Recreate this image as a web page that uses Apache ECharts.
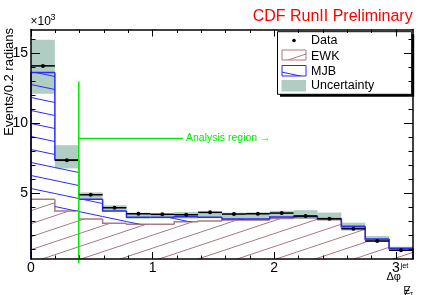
<!DOCTYPE html>
<html><head><meta charset="utf-8">
<script src="https://cdn.jsdelivr.net/npm/echarts@6/dist/echarts.min.js"></script>
<style>html,body{margin:0;padding:0;background:#fff}#c{width:436px;height:295px}</style>
</head><body><div id="c"></div>
<script>
// ---- data (values in units of 10^3 events) ----
const binEdges = [0.0000,0.1963,0.3927,0.5890,0.7854,0.9817,1.1781,1.3744,1.5708,1.7671,1.9635,2.1598,2.3562,2.5525,2.7489,2.9452,3.1416];
const dataValues = [14.11,7.36,4.90,3.97,3.54,3.50,3.47,3.64,3.52,3.54,3.59,3.38,3.19,2.47,1.59,0.93];
const ewkValues  = [4.57,3.73,3.16,2.86,2.79,2.79,2.97,3.02,3.09,3.09,3.21,3.26,3.12,2.55,1.68,1.02];
const mjbValues  = [9.07,3.67,1.41,0.88,0.50,0.50,0.36,0.27,0.08,0.07,0.10,0.11,0.07,0.09,0.06,0.05];
const bandLow    = [12.11,6.78,4.61,3.70,3.18,3.21,3.20,3.22,3.08,3.10,3.22,3.18,3.10,2.33,1.54,0.88];
const bandHigh   = [15.97,8.44,5.07,4.15,3.62,3.58,3.67,3.70,3.62,3.64,3.75,3.80,3.63,2.90,1.95,1.19];
const xTickValues = [0,1,2,3];
const xMinorValues = [0.2,0.4,0.6,0.8,1.2,1.4,1.6,1.8,2.2,2.4,2.6,2.8,3.0];
const yTickValues = [5,10,15];
const yMinorValues = [1,2,3,4,6,7,8,9,11,12,13,14,16];
const legendLabels = ['Data','EWK','MJB','Uncertainty'];
const yMin = 0.307, yMax = 16.71;
const xMin = 0, xMax = 3.1416;
const cutX = 0.3927, cutTop = 13.0, arrowY = 8.93, arrowEnd = 1.25;

// ---- styles ----
const FONT = 'Liberation Sans, Arial, Helvetica, sans-serif';
const ewkColor = '#a97a80';
const mjbColor = '#2a2aff';
const bandColor = '#b0cdc4';
const green = '#00ee00';

function makeHatch(w, h, color, dir){
  const c = document.createElement('canvas'); c.width = w; c.height = h;
  const g = c.getContext('2d'); g.strokeStyle = color; g.lineWidth = 1;
  for (let m = -1; m <= 1; m++){
    g.beginPath();
    if (dir > 0){ g.moveTo(0, h + m*h); g.lineTo(w, m*h); }
    else { g.moveTo(0, m*h); g.lineTo(w, h + m*h); }
    g.stroke();
  }
  return {image: c, repeat: 'repeat'};
}
const ewkHatch = makeHatch(39, 13, ewkColor, 1);
const mjbHatch = makeHatch(62, 13, mjbColor, -1);

const totalValues = ewkValues.map((v,i)=>v + mjbValues[i]);
const rows = dataValues.map((v,i)=>[binEdges[i], binEdges[i+1], ewkValues[i], totalValues[i], bandLow[i], bandHigh[i], v,
  i===0 ? yMin : ewkValues[i-1], i===0 ? yMin : totalValues[i-1]]);
const N = rows.length;

function bandItem(params, api){
  const a = api.coord([api.value(0), api.value(5)]);
  const b = api.coord([api.value(1), api.value(4)]);
  return {type:'rect', shape:{x:a[0], y:a[1], width:b[0]-a[0], height:b[1]-a[1]}, style:{fill: bandColor}};
}
function stackItem(lowerDim, topDim, prevDim, hatch, color){
  return function(params, api){
    const lo = api.value(0), hi = api.value(1), top = api.value(topDim), prev = api.value(prevDim);
    const base = lowerDim === null ? yMin : api.value(lowerDim);
    const a = api.coord([lo, base]), b = api.coord([hi, top]);
    const children = [
      {type:'rect', shape:{x:a[0], y:b[1], width:b[0]-a[0], height:a[1]-b[1]}, style:{fill: hatch}},
      {type:'polyline', shape:{points:[api.coord([lo, prev]), api.coord([lo, top]), api.coord([hi, top])]}, style:{stroke: color, lineWidth: 1.5, fill: null}}
    ];
    if (params.dataIndex === N-1){
      children.push({type:'line', shape:{x1:b[0], y1:b[1], x2:b[0], y2:api.coord([hi, yMin])[1]}, style:{stroke: color, lineWidth:1.5}});
    }
    return {type:'group', children};
  };
}
function dataItem(params, api){
  const lo = api.value(0), hi = api.value(1), v = api.value(6);
  const a = api.coord([lo, v]), b = api.coord([hi, v]);
  return {type:'group', children:[
    {type:'line', shape:{x1:a[0], y1:a[1], x2:b[0], y2:b[1]}, style:{stroke:'#000', lineWidth:1.5}},
    {type:'circle', shape:{cx:(a[0]+b[0])/2, cy:a[1], r:2}, style:{fill:'#000'}}
  ]};
}
function cutItem(params, api){
  const p0 = api.coord([cutX, 0]), p1 = api.coord([cutX, cutTop]);
  const h0 = api.coord([cutX, arrowY]), h1 = api.coord([arrowEnd, arrowY]);
  return {type:'group', children:[
    {type:'line', shape:{x1:p0[0], y1:p0[1], x2:p1[0], y2:p1[1]}, style:{stroke: green, lineWidth:1.5}},
    {type:'line', shape:{x1:h0[0], y1:h0[1], x2:h1[0], y2:h1[1]}, style:{stroke: green, lineWidth:1.2}},
    {type:'text', x:h1[0]+3, y:h1[1], style:{text:'Analysis region \u2192', fill: green, font: '10.5px ' + FONT, verticalAlign:'middle', align:'left'}}
  ]};
}

function xAx(pos, major, labels){
  return {type:'value', min:xMin, max:xMax, position:pos, z:10,
    axisLine:{show: major, onZero:false, lineStyle:{color:'#000', width:1.5}},
    axisTick:{show:true, inside:true, length: major ? 7 : 3.5, customValues: major ? xTickValues : xMinorValues, lineStyle:{color:'#000', width:1}},
    axisLabel:{show: labels, customValues: xTickValues, color:'#000', fontSize:14, fontFamily: FONT, margin:2},
    splitLine:{show:false}};
}
function yAx(pos, major, labels){
  return {type:'value', min:yMin, max:yMax, position:pos, z:10,
    axisLine:{show: major, onZero:false, lineStyle:{color:'#000', width:1.5}},
    axisTick:{show:true, inside:true, length: major ? 9 : 4.5, customValues: major ? yTickValues : yMinorValues, lineStyle:{color:'#000', width:1}},
    axisLabel:{show: labels, customValues: yTickValues, color:'#000', fontSize:14, fontFamily: FONT, margin:3},
    splitLine:{show:false}};
}

const chart = echarts.init(document.getElementById('c'), null, {renderer:'canvas'});
const legendX = 277.5, legendY = 31.7, legendW = 134.2, legendH = 62.6;
const legendRows = [40.5, 56.2, 71.3, 85.8];
chart.setOption({
  animation:false,
  backgroundColor:'#fff',
  grid:{left:31, right:23, top:29.5, bottom:36, containLabel:false},
  xAxis:[xAx('bottom', true, true), xAx('bottom', false, false), xAx('top', true, false), xAx('top', false, false)],
  yAxis:[yAx('left', true, true), yAx('left', false, false), yAx('right', true, false), yAx('right', false, false)],
  series:[
    {type:'custom', name:'Uncertainty', data: rows, renderItem: bandItem, z:1, encode:{x:[0,1], y:[4,5]}},
    {type:'custom', name:'EWK', data: rows, renderItem: stackItem(null, 2, 7, ewkHatch, ewkColor), z:2, encode:{x:[0,1], y:[2]}},
    {type:'custom', name:'MJB', data: rows, renderItem: stackItem(2, 3, 8, mjbHatch, mjbColor), z:3, encode:{x:[0,1], y:[3]}},
    {type:'custom', name:'Data', data: rows, renderItem: dataItem, z:4, encode:{x:[0,1], y:[6]}},
    {type:'custom', name:'cut', data: [[cutX, cutTop]], renderItem: cutItem, z:5, encode:{x:[0], y:[1]}}
  ],
  graphic:[
    {type:'text', right: 436-412.7, top: 9, style:{text:'CDF RunII Preliminary', fill:'#ff0000', font:'16px ' + FONT}},
    {type:'text', x:30.5, y:27.3, style:{text:'\u00d710', fill:'#000', font:'12px ' + FONT, verticalAlign:'bottom'}},
    {type:'text', x:50.5, y:22, style:{text:'3', fill:'#000', font:'9px ' + FONT, verticalAlign:'bottom'}},
    {type:'text', x:9, y:28, rotation: Math.PI/2, style:{text:'Events/0.2 radians', fill:'#000', font:'13px ' + FONT, align:'right', verticalAlign:'middle'}},
    {type:'text', x:386.5, y:276.7, style:{text:'\u0394\u03c6', fill:'#000', font:'11px ' + FONT, verticalAlign:'middle'}},
    {type:'text', x:400.5, y:265.5, style:{text:'jet', fill:'#000', font:'7.5px ' + FONT, verticalAlign:'middle'}},
    {type:'text', x:403.5, y:291.5, style:{text:'E', fill:'#000', font:'10px ' + FONT, verticalAlign:'middle'}},
    {type:'line', shape:{x1:404.5, y1:296, x2:410, y2:286}, style:{stroke:'#000', lineWidth:1}},
    {type:'text', x:409.5, y:294, style:{text:'T', fill:'#000', font:'6px ' + FONT, verticalAlign:'middle'}},
    // legend
    {type:'group', z:100, children:[
      {type:'rect', shape:{x:legendX+2.5, y:legendY+2.5, width:legendW, height:legendH}, style:{fill:'#000'}},
      {type:'rect', shape:{x:legendX, y:legendY, width:legendW, height:legendH}, style:{fill:'#fff', stroke:'#000', lineWidth:1}},
      {type:'circle', shape:{cx:294, cy:legendRows[0], r:1.8}, style:{fill:'#000'}},
      {type:'rect', shape:{x:282, y:50, width:24, height:10}, style:{fill: ewkHatch, stroke: ewkColor, lineWidth:1}},
      {type:'rect', shape:{x:282, y:65.5, width:24, height:10.5}, style:{fill: mjbHatch, stroke: mjbColor, lineWidth:1}},
      {type:'rect', shape:{x:281.5, y:80, width:24.5, height:11.5}, style:{fill: bandColor}},
      ...legendLabels.map((t,k)=>({type:'text', x:311, y:legendRows[k], style:{text:t, fill:'#000', font:'12.5px ' + FONT, verticalAlign:'middle'}}))
    ]}
  ]
});
</script></body></html>
